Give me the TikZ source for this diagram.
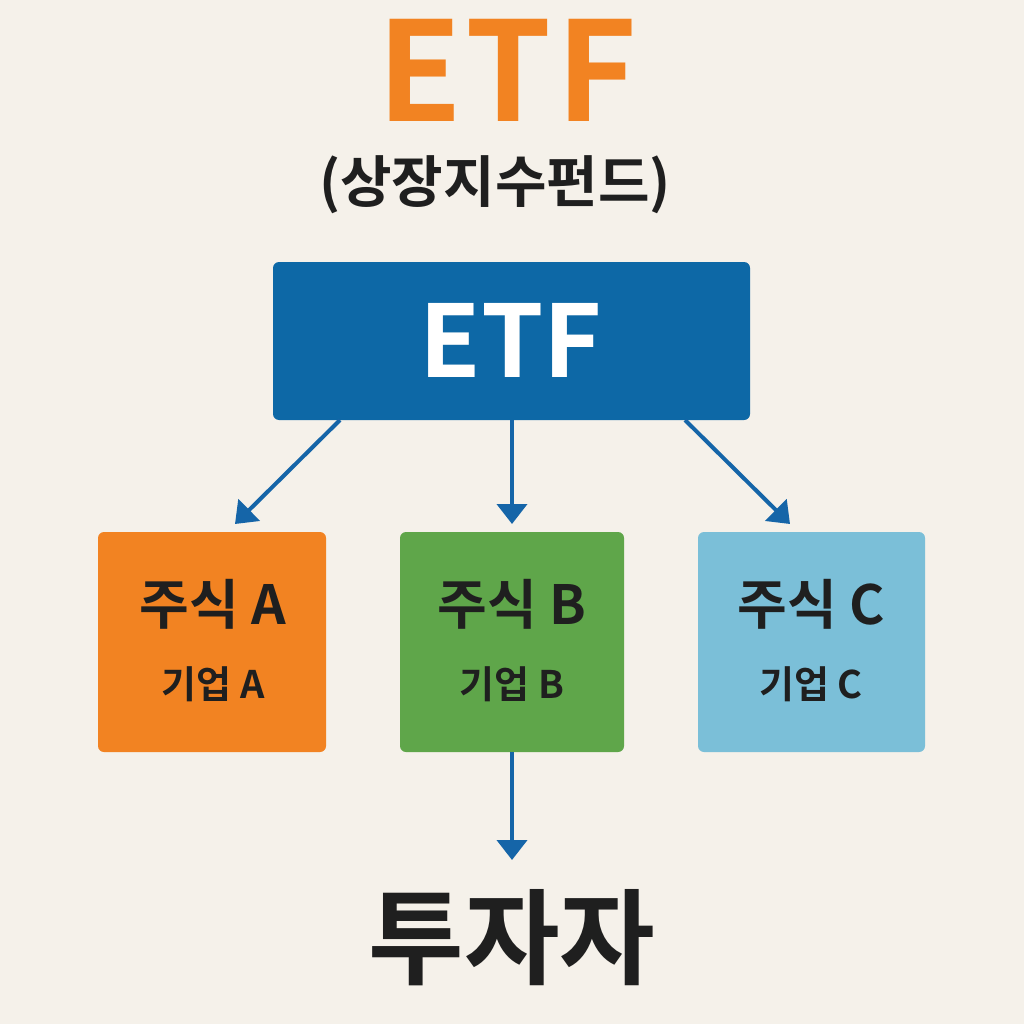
\documentclass[tikz,border=0pt]{standalone}
\usepackage{fontspec}
\setmainfont{Noto Sans CJK KR}[BoldFont={Noto Sans CJK KR Bold}]
\usetikzlibrary{arrows.meta}
\definecolor{bg}{HTML}{F5F1EA}
\definecolor{org}{HTML}{F28322}
\definecolor{blu}{HTML}{0D68A6}
\definecolor{grn}{HTML}{5FA64A}
\definecolor{lbl}{HTML}{7BBFD8}
\definecolor{arr}{HTML}{1565A8}
\definecolor{ink}{HTML}{1F1F1F}
\tikzset{
  card/.style={rounded corners=6pt},
  conn/.style={draw=arr,line width=4pt,-{Triangle[length=20pt,width=30pt]}},
  big/.style={font=\bfseries\fontsize{54}{58}\selectfont,text=ink},
  small/.style={font=\bfseries\fontsize{38}{42}\selectfont,text=ink},
}
\begin{document}
\begin{tikzpicture}[x=1pt,y=-1pt]
\fill[bg] (0,0) rectangle (1024,1024);
\useasboundingbox (0,0) rectangle (1024,1024);
\node[font=\bfseries\fontsize{138}{140}\selectfont,text=org,inner sep=0pt] (t) at (507,70) {E\kern4pt T\kern4pt F};
\node[font=\bfseries\fontsize{56}{60}\selectfont,text=ink] (st) at (495,185) {(상장지수펀드)};
\fill[blu,card] (273,262) rectangle (750,420);
\node[font=\bfseries\fontsize{100}{110}\selectfont,text=white] (etf) at (511,340) {ETF};
\coordinate (e1) at (340,420); \coordinate (e2) at (512,420); \coordinate (e3) at (685,420);
\fill[org,card] (98,532) rectangle (326,752);
\fill[grn,card] (400,532) rectangle (624,752);
\fill[lbl,card] (698,532) rectangle (925,752);
\coordinate (a) at (235,524); \coordinate (b) at (512,524); \coordinate (c) at (790,524);
\node[big] (ta) at (213,604) {주식 A};
\node[small] (sa) at (213,684) {기업 A};
\node[big] (tb) at (512,604) {주식 B};
\node[small] (sb) at (512,684) {기업 B};
\node[big] (tc) at (811,604) {주식 C};
\node[small] (sc) at (811,684) {기업 C};
\draw[conn] (e1) -- (a);
\draw[conn] (e2) -- (b);
\draw[conn] (e3) -- (c);
\coordinate (bb) at (512,752); \coordinate (inv) at (512,860);
\draw[conn] (bb) -- (inv);
\node[font=\bfseries\fontsize{104}{110}\selectfont,text=ink] (tz) at (512,938) {투자자};
\end{tikzpicture}
\end{document}
